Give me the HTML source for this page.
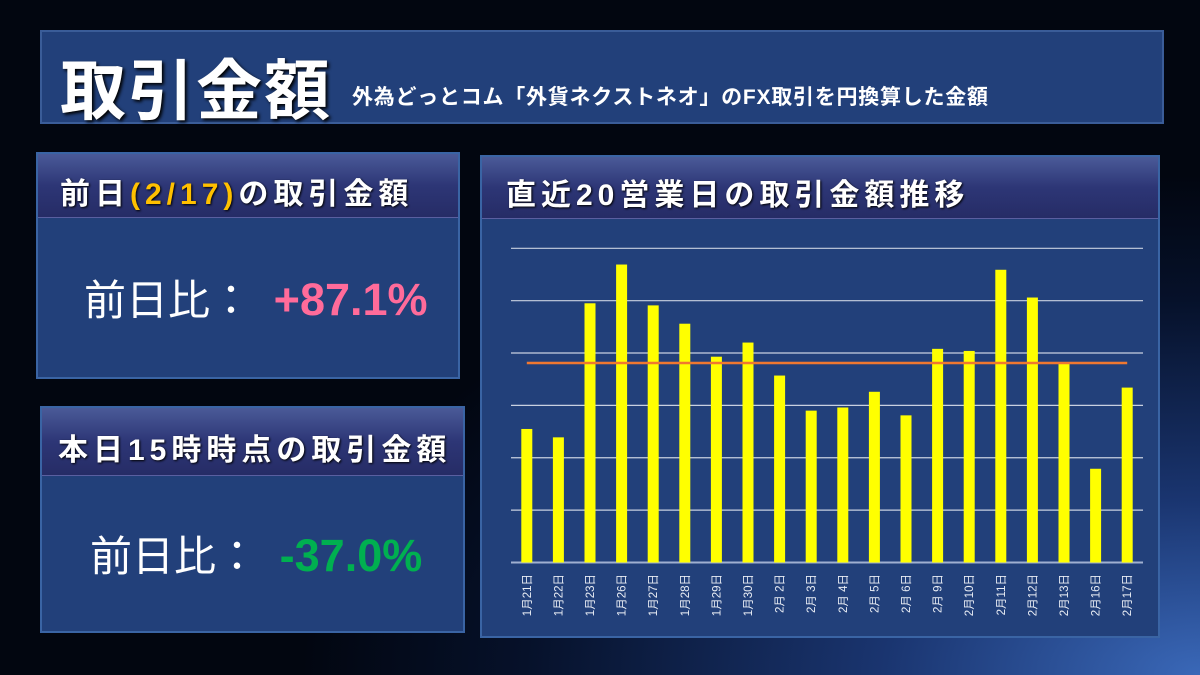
<!DOCTYPE html>
<html><head><meta charset="utf-8"><style>
*{margin:0;padding:0;box-sizing:border-box}
body{width:1200px;height:675px;overflow:hidden;position:relative;font-family:"Liberation Sans","Noto Sans CJK JP",sans-serif;
background:radial-gradient(ellipse 900px 500px at 1200px 675px,#3a68b8 0%,#1a3570 35%,#06112a 75%,#020610 100%);}
.box{position:absolute;background:#22407a;border:2px solid #3a64a4;}
.hdr{position:absolute;left:0;top:0;right:0;background:linear-gradient(#4a5a98,#2d3676 50%,#262c66);border-bottom:1px solid #5a5fa0;color:#fff;font-weight:bold;font-size:30px;letter-spacing:5px;text-shadow:1px 1px 2px #000;white-space:nowrap}
.big{position:absolute;color:#fff;font-size:42px;white-space:nowrap}
.big span{font-size:45px;font-weight:bold;margin-left:10px}
</style></head><body>
<div class="box" style="left:40px;top:30px;width:1124px;height:94px;background:#22407a;border-color:#3a5c98">
 <div style="position:absolute;left:18px;top:6px;font-size:66px;font-weight:bold;color:#fff;text-shadow:2px 2px 3px #000;letter-spacing:2px">取引金額</div>
 <div style="position:absolute;left:310px;top:49px;font-size:21px;font-weight:bold;color:#fff;letter-spacing:0.75px;white-space:nowrap">外為どっとコム「外貨ネクストネオ」のFX取引を円換算した金額</div>
</div>
<div class="box" style="left:36px;top:152px;width:424px;height:227px">
 <div class="hdr" style="height:64px;padding:15px 0 0 22px">前日<span style="color:#ffc000">(2/17)</span>の取引金額</div>
 <div class="big" style="left:46px;top:113px">前日比： <span style="color:#ff6b9a">+87.1%</span></div>
</div>
<div class="box" style="left:40px;top:406px;width:425px;height:227px">
 <div class="hdr" style="height:68px;padding:17px 0 0 16px">本日15時時点の取引金額</div>
 <div class="big" style="left:48px;top:115px">前日比： <span style="color:#00b050">-37.0%</span></div>
</div>
<div class="box" style="left:480px;top:155px;width:680px;height:483px">
 <div class="hdr" style="height:62px;padding:13px 0 0 24px">直近20営業日の取引金額推移</div>
</div>
<svg id="chart" width="1200" height="675" style="position:absolute;left:0;top:0"></svg>
<script>
const categories=["1月21日","1月22日","1月23日","1月26日","1月27日","1月28日","1月29日","1月30日","2月 2日","2月 3日","2月 4日","2月 5日","2月 6日","2月 9日","2月10日","2月11日","2月12日","2月13日","2月16日","2月17日"];
const values=[2.55,2.39,4.95,5.69,4.91,4.56,3.93,4.20,3.57,2.90,2.96,3.26,2.81,4.08,4.04,5.59,5.06,3.80,1.79,3.34];
const average=[3.81];
const yTicks=[0,1,2,3,4,5,6];
const NS="http://www.w3.org/2000/svg",svg=document.getElementById('chart');
const x0=511,x1=1143,yb=562.5,yt=248.3,ymax=6;
const y=v=>yb-(v/ymax)*(yb-yt);
const step=(x1-x0)/categories.length;
const xc=i=>x0+step*(i+0.5);
function mk(t,a){const e=document.createElementNS(NS,t);for(const k in a)e.setAttribute(k,a[k]);svg.appendChild(e);return e;}
yTicks.forEach(t=>{const l=mk('line',{x1:x0,x2:x1,y1:y(t),y2:y(t),stroke:t===0?'#a0b0d0':'#c8d0e0','stroke-width':t===0?2:1.2});

});
values.forEach((v,i)=>{const r=mk('rect',{x:xc(i)-5.5,y:y(v),width:11,height:yb-y(v),fill:'#ffff00'});


const tx=xc(i)+4,ty=574;
const t=mk('text',{x:tx,y:ty,fill:'#e8ecf4','font-size':11.5,transform:`rotate(-90 ${tx} ${ty})`,'text-anchor':'end','font-family':'"Liberation Sans","Noto Sans CJK JP",sans-serif'});
t.textContent=categories[i];

});
const al=mk('line',{x1:xc(0),x2:xc(categories.length-1),y1:y(average[0]),y2:y(average[0]),stroke:'#f07830','stroke-width':2.5});


</script>
</body></html>
